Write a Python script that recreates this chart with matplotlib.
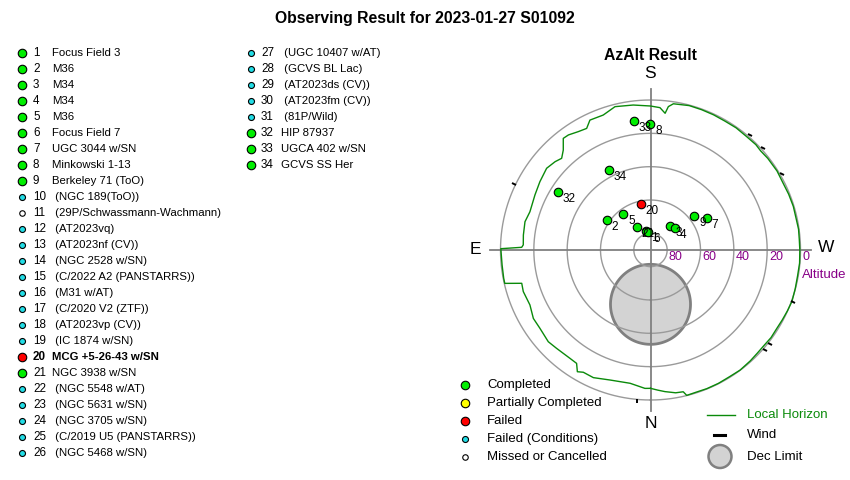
import numpy as np
import matplotlib
matplotlib.use("Agg")
import matplotlib.pyplot as plt
from matplotlib.markers import MarkerStyle
from matplotlib.transforms import Affine2D
from matplotlib.patches import Circle

plt.rcParams['font.family'] = ['Liberation Sans', 'DejaVu Sans']

# ---------------- data ----------------
TITLE = "Observing Result for 2023-01-27 S01092"
PLOT_TITLE = "AzAlt Result"

target_ids = list(range(1, 35))
target_names = [
    "Focus Field 3", "M36", "M34", "M34", "M36", "Focus Field 7",
    "UGC 3044 w/SN", "Minkowski 1-13", "Berkeley 71 (ToO)",
    "(NGC 189(ToO))", "(29P/Schwassmann-Wachmann)", "(AT2023vq)",
    "(AT2023nf (CV))", "(NGC 2528 w/SN)", "(C/2022 A2 (PANSTARRS))",
    "(M31 w/AT)", "(C/2020 V2 (ZTF))", "(AT2023vp (CV))", "(IC 1874 w/SN)",
    "MCG +5-26-43 w/SN", "NGC 3938 w/SN", "(NGC 5548 w/AT)",
    "(NGC 5631 w/SN)", "(NGC 3705 w/SN)", "(C/2019 U5 (PANSTARRS))",
    "(NGC 5468 w/SN)", "(UGC 10407 w/AT)", "(GCVS BL Lac)",
    "(AT2023ds (CV))", "(AT2023fm (CV))", "(81P/Wild)", "HIP 87937",
    "UGCA 402 w/SN", "GCVS SS Her",
]
target_status = (["Completed"] * 9 + ["Failed (Conditions)", "Missed or Cancelled"]
                 + ["Failed (Conditions)"] * 8 + ["Failed", "Completed"]
                 + ["Failed (Conditions)"] * 10 + ["Completed"] * 3)

point_ids = [1, 2, 3, 4, 5, 6, 7, 8, 9, 20, 21, 32, 33, 34]
point_az = [166.0, 124.4, 219.5, 228.5, 142.7, 173.1, 240.6, 179.9, 232.4,
            167.9, 148.7, 122.1, 172.7, 152.5]
point_alt = [78.1, 58.1, 71.3, 70.4, 63.1, 78.9, 51.3, 14.4, 56.8,
             62.0, 74.1, 24.2, 12.0, 36.1]

horizon_az = [0, 2.3, 8.7, 17.3, 24.1, 28.8, 31.0, 33.1, 36.6, 43.7, 48.1, 54.7,
              59.7, 65.5, 71.9, 75.5, 77.1, 79.1, 84.2, 89.5, 90.5, 91.2, 92.3,
              96.7, 102.7, 107.6, 115.5, 121.7, 128.2, 132.8, 135.9, 138.9, 142.0,
              144.5, 148.6, 152.3, 155.0, 160.7, 166.1, 173.2, 180.0, 183.8, 186.1,
              187.1, 188.9, 195, 200, 205, 210, 215, 220, 225, 228, 232, 238, 243,
              248, 253, 258, 262, 266, 270, 275, 280, 285, 290, 294, 298, 302, 306,
              310, 314, 318, 323.3, 328, 333, 337.9, 342, 346, 347, 350, 354.2,
              357, 360]
horizon_alt = [7.0, 6.9, 9.1, 8.3, 6.1, 6.3, 4.8, 8.8, 9.0, 8.4, 7.6, 8.7,
               8.6, 10.5, 9.7, 10.2, 0.3, 0.3, 0.5, 0.3, 0.2, 12.7, 13.6,
               13.2, 12.8, 14.1, 13.2, 12.0, 10.7, 12.0, 13.4, 10.4, 5.0,
               5.2, 6.8, 7.6, 4.0, 4.2, 1.4, 2.4, 3.6, 4.4, 7.5,
               3.3, 1.2, 0.3, 0.4, 0.5, 0.7, 0.5, 0.8, 0.6, 1.1, 0.7, 0.5, 0.9,
               0.6, 0.4, 0.6, 0.3, 0.5, 0.4, 0.2, 0.4, 0.1, -0.3, 0.1, 0.5, 0.8, 0.6,
               1.0, 0.9, 0.5, 0.1, 0.4, 0.2, 0.2, 0.4, 0.1, 2.7, 3.0, 4.6,
               5.8, 7.0]

wind_az = [5.2, 115.9, 221.1, 228.0, 240.2, 290.1, 308.2, 311.0]
wind_dir = [90, -37, -35, -38, -40, -31, -40, -40]
wind_alt = -1.2

dec_limit_az = 0.0
dec_limit_alt = 57.4
dec_limit_radius = 24.0

altitude_rings = [80, 60, 40, 20, 0]

legend_labels = ["Completed", "Partially Completed", "Failed",
                 "Failed (Conditions)", "Missed or Cancelled"]

# ---------------- styles ----------------
STYLE = {
    "Completed": dict(fc="#00ee00", ms=8.5),
    "Partially Completed": dict(fc="#ffff00", ms=8.5),
    "Failed": dict(fc="#ff0000", ms=8.5),
    "Failed (Conditions)": dict(fc="#22dde6", ms=6.0),
    "Missed or Cancelled": dict(fc="#ffffff", ms=5.5),
}
PX = 0.72  # points per pixel at dpi 100
GREEN = "#0a8a0a"
PURPLE = "#880088"

fig = plt.figure(figsize=(8.5, 4.8), dpi=100)

# overlay axes in pixel coordinates
ax0 = fig.add_axes([0, 0, 1, 1])
ax0.set_xlim(0, 850)
ax0.set_ylim(480, 0)
ax0.axis("off")

ax0.text(424.5, 19, TITLE, ha="center", va="center", fontsize=11.3, fontweight="bold")
ax0.text(650.5, 55, PLOT_TITLE, ha="center", va="center", fontsize=11.3, fontweight="bold")

# target list
for i, (num, name, st) in enumerate(zip(target_ids, target_names, target_status)):
    col = 0 if num <= 26 else 1
    row = i if col == 0 else i - 26
    y = 53.3 + 16 * row
    mx, nx, tx = (22.5, 33, 52) if col == 0 else (251.5, 261, 281.5)
    s = STYLE[st]
    ax0.plot(mx, y, "o", ms=s["ms"] * PX, mfc=s["fc"], mec="black", mew=0.8)
    fw = "bold" if st == "Failed" else "normal"
    label = (" " + name) if name.startswith("(") else name
    ax0.text(nx, y, str(num), ha="left", va="center", fontsize=8.4, fontweight=fw)
    ax0.text(tx, y, label, ha="left", va="center", fontsize=8.2, fontweight=fw)

# bottom legend
leg_y = [385, 403, 420.7, 439, 457]
for lab, y in zip(legend_labels, leg_y):
    s = STYLE[lab]
    ax0.plot(465, y, "o", ms=s["ms"] * PX, mfc=s["fc"], mec="black", mew=0.8)
    ax0.text(487, y, lab, ha="left", va="center", fontsize=9.5)

# right legend
ax0.plot([707, 735], [415, 415], color=GREEN, lw=1)
ax0.text(747, 415, "Local Horizon", ha="left", va="center", fontsize=9.5, color=GREEN)
ax0.plot([714.5, 725.5], [435, 435], color="black", lw=2.2)
ax0.text(747, 435, "Wind", ha="left", va="center", fontsize=9.5)
ax0.add_patch(Circle((720, 456.5), 11.5, fc="#d3d3d3", ec="#808080", lw=1.8))
ax0.text(747, 456.5, "Dec Limit", ha="left", va="center", fontsize=9.5)

# compass letters
ax0.text(650.5, 74, "S", ha="center", va="center", fontsize=12.5)
ax0.text(475, 250, "E", ha="center", va="center", fontsize=12.5)
ax0.text(826, 248, "W", ha="center", va="center", fontsize=12.5)
ax0.text(650.5, 424, "N", ha="center", va="center", fontsize=12.5)

# ---------------- polar az/alt plot ----------------
cx, cy, R90 = 650.5, 250.0, 150.0
RMAX = 100.0
rpx = R90 * RMAX / 90.0
ax = fig.add_axes([(cx - rpx) / 850, (480 - cy - rpx) / 480, 2 * rpx / 850, 2 * rpx / 480],
                  projection="polar")
ax.set_theta_zero_location("S")
ax.set_theta_direction(-1)
ax.set_rlim(0, RMAX)
ax.set_xticks([])
ax.set_yticks([])
ax.grid(False)
ax.spines["polar"].set_visible(False)
ax.patch.set_alpha(0)

def zd(alt):
    return 90.0 - np.asarray(alt, dtype=float)

# dec limit disk
z0 = zd(dec_limit_alt)
t = np.linspace(0, 2 * np.pi, 361)
a0 = np.deg2rad(dec_limit_az)
xc, yc = z0 * np.sin(a0), z0 * np.cos(a0)
xs = xc + dec_limit_radius * np.cos(t)
ys = yc + dec_limit_radius * np.sin(t)
ax.fill(np.arctan2(xs, ys), np.hypot(xs, ys), fc="#d3d3d3", ec="#808080", lw=2.0, zorder=1)

# rings
full = np.linspace(0, 2 * np.pi, 721)
for alt in altitude_rings:
    ax.plot(full, np.full_like(full, zd(alt)), color="#9a9a9a", lw=1.0, zorder=2)
# cross
for az in [0, 90, 180, 270]:
    ax.plot([np.deg2rad(az)] * 2, [0, 96.5], color="#808080", lw=1.3, zorder=2)

# altitude labels
for alt in altitude_rings:
    ax.annotate(str(alt), (np.deg2rad(270), zd(alt)), xytext=(1.8 * PX, -7.5 * PX),
                textcoords="offset points", ha="left", va="center",
                fontsize=9, color=PURPLE, zorder=6)
ax.annotate("Altitude", (np.deg2rad(270), zd(0)), xytext=(1.5 * PX, -25 * PX),
            textcoords="offset points", ha="left", va="center",
            fontsize=9.5, color=PURPLE, zorder=6)

# local horizon
ax.plot(np.deg2rad(horizon_az), zd(horizon_alt), color=GREEN, lw=1.0, zorder=3)

# wind marks
for az, d in zip(wind_az, wind_dir):
    m = MarkerStyle("_", transform=Affine2D().rotate_deg(d))
    ax.plot(np.deg2rad(az), zd(wind_alt), marker=m, ms=3.2, mew=1.4,
            color="black", ls="none", zorder=4)

# observed points
status_of = dict(zip(target_ids, target_status))
for pid, az, alt in zip(point_ids, point_az, point_alt):
    s = STYLE[status_of[pid]]
    th, r = np.deg2rad(az), zd(alt)
    ax.plot(th, r, "o", ms=s["ms"] * PX, mfc=s["fc"], mec="black", mew=0.8, zorder=5)
    ax.annotate(str(pid), (th, r), xytext=(5 * PX, -7 * PX), textcoords="offset points",
                ha="left", va="center", fontsize=8.5, zorder=6)

fig.savefig("out.png", dpi=100)
